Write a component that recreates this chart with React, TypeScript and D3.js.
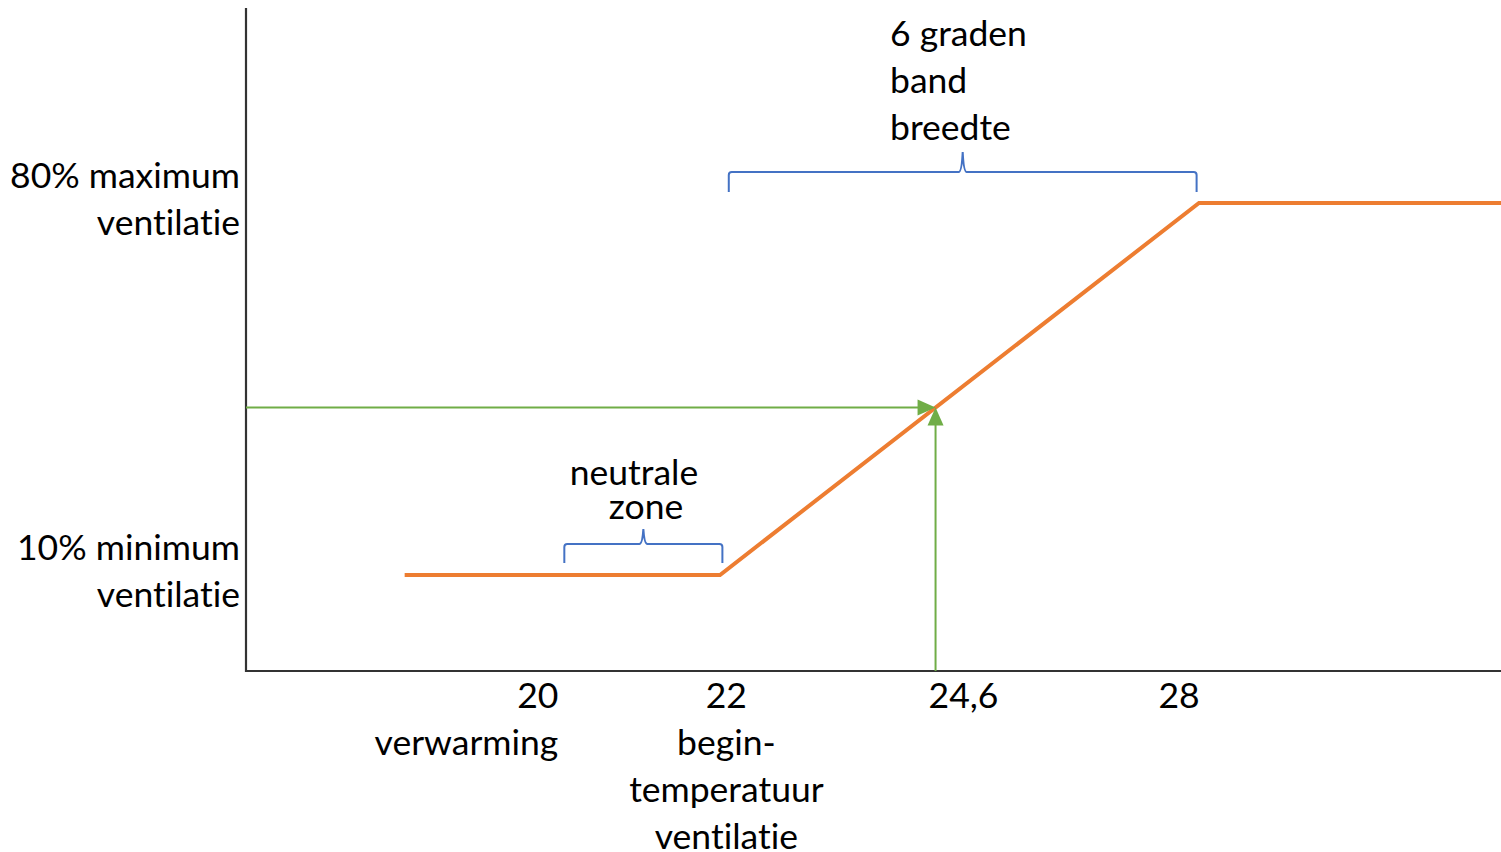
import React from "react";
import * as d3 from "d3";

// ---------- data ----------
const lineTemps = [18.05, 22, 28, 31.8];
const lineVentilation = [10, 10, 80, 80];

const yLevels = [80, 10];
const yLabelLines = [
  ["80% maximum", "ventilatie"],
  ["10% minimum", "ventilatie"],
];

const xTickLabelAt = [20, 22.08, 25.05, 27.75];
const xTickLabelLines = [
  ["20", "verwarming"],
  ["22", "begin-", "temperatuur", "ventilatie"],
  ["24,6"],
  ["28"],
];

const readTemp = 24.7;

const braceStarts = [20.05, 22.11];
const braceEnds = [22.03, 27.97];
const braceLevels = [10, 80];
const braceLabelLines = [
  ["neutrale", "zone"],
  ["6 graden", "band", "breedte"],
];

// ---------- layout ----------
const W = 1501;
const H = 852;
const axisLeft = 246;
const axisTop = 8;
const axisBottom = 671;
const axisRight = 1501;

const FONT = "Lato, 'Open Sans', sans-serif";
const FS = 35.5;
const LH = 47;

const ORANGE = "#ED7D31";
const GREEN = "#70AD47";
const BLUE = "#4472C4";

export default function App() {
  const x = d3.scaleLinear().domain([22, 28]).range([720, 1199]);
  const y = d3.scaleLinear().domain([10, 80]).range([575, 203]);

  const pts: [number, number][] = lineTemps.map((t, i) => [t, lineVentilation[i]]);
  const line = d3
    .line<[number, number]>()
    .x((d) => x(d[0]))
    .y((d) => y(d[1]));

  const interp = d3.scaleLinear().domain(lineTemps).range(lineVentilation);
  const readVent = interp(readTemp);
  const px = x(readTemp);
  const py = y(readVent);

  const braceGeom = [
    { drop: 19, rise: 15, gap: 31 },
    { drop: 20, rise: 20, gap: 31 },
  ];

  const bracePath = (x1: number, x2: number, yh: number, drop: number, rise: number) => {
    const xm = (x1 + x2) / 2;
    const r = 3;
    return (
      `M${x1},${yh + drop} L${x1},${yh + r} Q${x1},${yh} ${x1 + r},${yh} ` +
      `L${xm - 4},${yh} Q${xm - 1},${yh} ${xm},${yh - rise} ` +
      `Q${xm + 1},${yh} ${xm + 4},${yh} ` +
      `L${x2 - r},${yh} Q${x2},${yh} ${x2},${yh + r} L${x2},${yh + drop}`
    );
  };

  return (
    <svg
      width={W}
      height={H}
      style={{ position: "absolute", left: 0, top: 0, background: "#fff", fontVariantLigatures: "none" }}
      fontFamily={FONT}
      fontSize={FS}
    >
      <rect width={W} height={H} fill="#fff" />

      {/* axes */}
      <line x1={axisLeft} y1={axisTop} x2={axisLeft} y2={axisBottom + 1} stroke="#333" strokeWidth={2.2} />
      <line x1={axisLeft - 1} y1={axisBottom} x2={axisRight} y2={axisBottom} stroke="#333" strokeWidth={2.2} />

      {/* orange line */}
      <path d={line(pts) || ""} fill="none" stroke={ORANGE} strokeWidth={4} />

      {/* green arrows */}
      <line x1={axisLeft} y1={py} x2={px - 14} y2={py} stroke={GREEN} strokeWidth={2} />
      <polygon points={`${px},${py} ${px - 18},${py - 8} ${px - 18},${py + 8}`} fill={GREEN} />
      <line x1={px} y1={axisBottom} x2={px} y2={py + 14} stroke={GREEN} strokeWidth={2} />
      <polygon points={`${px},${py} ${px - 8},${py + 18} ${px + 8},${py + 18}`} fill={GREEN} />

      {/* braces */}
      {braceStarts.map((s, i) => {
        const g = braceGeom[i];
        const yh = y(braceLevels[i]) - g.gap;
        return (
          <path
            key={"b" + i}
            d={bracePath(x(s), x(braceEnds[i]), yh, g.drop, g.rise)}
            fill="none"
            stroke={BLUE}
            strokeWidth={2}
          />
        );
      })}

      {/* brace labels */}
      <text textAnchor="middle" fill="#000">
        <tspan x={634} y={485}>{braceLabelLines[0][0]}</tspan>
        <tspan x={646} y={519}>{braceLabelLines[0][1]}</tspan>
      </text>
      <text textAnchor="start" fill="#000">
        {braceLabelLines[1].map((s, j) => (
          <tspan key={j} x={890} y={46 + j * LH}>
            {s}
          </tspan>
        ))}
      </text>

      {/* y labels */}
      {yLevels.map((v, i) => (
        <text key={"y" + i} textAnchor="end" fill="#000">
          {yLabelLines[i].map((s, j) => (
            <tspan key={j} x={240} y={y(v) - 15 + j * LH}>
              {s}
            </tspan>
          ))}
        </text>
      ))}

      {/* x labels */}
      {xTickLabelAt.map((v, i) => (
        <text key={"x" + i} textAnchor={i === 0 ? "end" : "middle"} fill="#000">
          {xTickLabelLines[i].map((s, j) => (
            <tspan key={j} x={i === 0 ? x(v) - 2 : x(v)} y={708 + j * LH}>
              {s}
            </tspan>
          ))}
        </text>
      ))}
    </svg>
  );
}
